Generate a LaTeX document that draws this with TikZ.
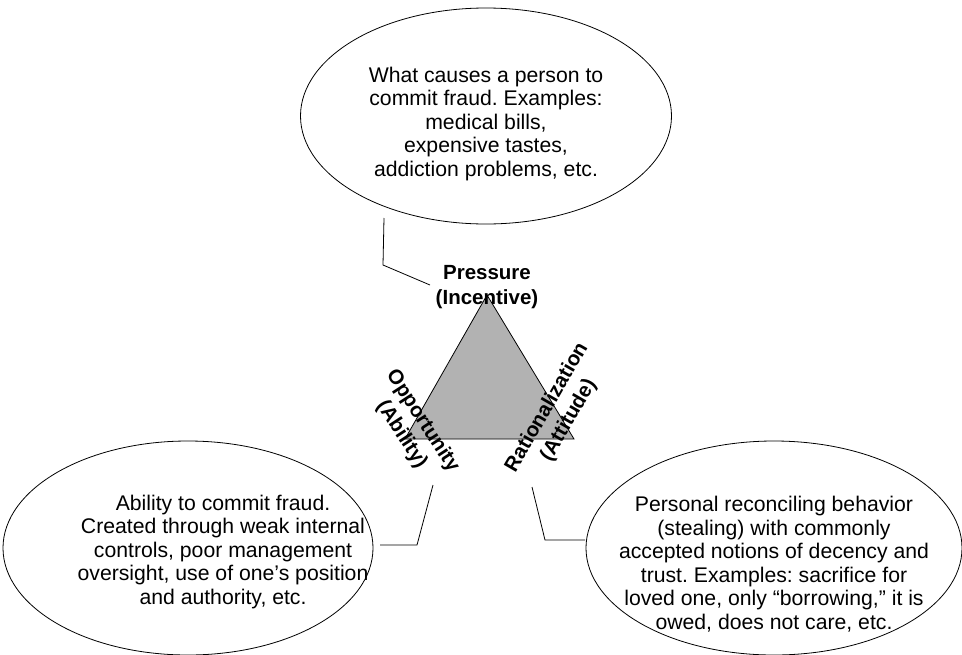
\documentclass[tikz,border=0pt]{standalone}
\usepackage{fontspec}
\setmainfont{Liberation Sans}
\usetikzlibrary{shapes.geometric}
\definecolor{trifill}{RGB}{178,178,178}
\frenchspacing
\begin{document}
\begin{tikzpicture}[x=1pt,y=-1pt,
  bubble/.style={draw,ellipse,line width=0.8pt,inner sep=0pt},
  bodytext/.style={align=center,font=\fontsize{21.2}{23.5}\selectfont,inner sep=0pt},
  corner/.style={align=center,font=\fontsize{20.5}{25}\selectfont\bfseries,inner sep=0pt},
  callout/.style={line width=0.8pt}]
\useasboundingbox (0,0) rectangle (962,654);

% the fraud triangle
\coordinate (apex) at (487,295);
\coordinate (bl) at (405,439);
\coordinate (br) at (574,439);
\draw[fill=trifill,line width=0.8pt,line join=miter] (apex) -- (bl) -- (br) -- cycle;

% corner labels
\node[corner] (pressure) at (487,287) {Pressure\\(Incentive)};
\node[corner,rotate=-57] (opportunity) at (412,428) {Opportunity\\(Ability)};
\node[corner,rotate=60] (rational) at (558,414) {Rationalization\\(Attitude)};

% explanatory bubbles
\node[bubble,minimum width=371pt,minimum height=216pt] (topb) at (486,116) {};
\node[bodytext] (toptext) at (486,124) {What causes a person to\\commit fraud. Examples:\\medical bills,\\expensive tastes,\\addiction problems, etc.};

\node[bubble,minimum width=370pt,minimum height=214pt] (leftb) at (188,548) {};
\node[bodytext] (lefttext) at (223,552) {Ability to commit fraud.\\Created through weak internal\\controls, poor management\\oversight, use of one’s position\\and authority, etc.};

\node[bubble,minimum width=376pt,minimum height=214pt] (rightb) at (774,548) {};
\node[bodytext] (righttext) at (774,564) {Personal reconciling behavior\\(stealing) with commonly\\accepted notions of decency and\\trust. Examples: sacrifice for\\loved one, only “borrowing,” it is\\owed, does not care, etc.};

% callout lines
\coordinate (tA) at (384,218);
\coordinate (tB) at (383,265);
\coordinate (tC) at (430,285);
\draw[callout] (tA) -- (tB) -- (tC);

\coordinate (lA) at (380,545);
\coordinate (lB) at (417,545);
\coordinate (lC) at (433,485);
\draw[callout] (lA) -- (lB) -- (lC);

\coordinate (rA) at (585,540);
\coordinate (rB) at (545,540);
\coordinate (rC) at (532,487);
\draw[callout] (rA) -- (rB) -- (rC);
\end{tikzpicture}
\end{document}
